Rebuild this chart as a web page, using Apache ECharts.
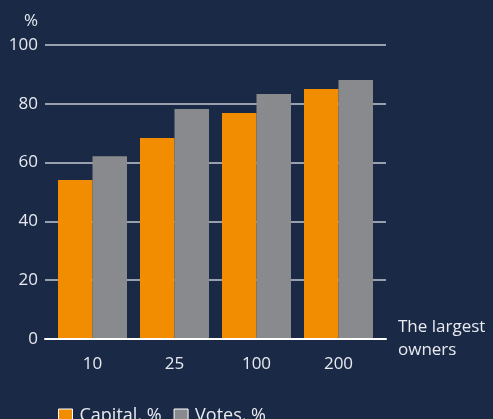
<!DOCTYPE html>
<html>
<head>
<meta charset="utf-8">
<script src="https://cdn.jsdelivr.net/npm/echarts@6/dist/echarts.min.js"></script>
<style>
  html, body { margin: 0; padding: 0; background: #1a2946; }
  #chart { width: 493px; height: 419px; }
</style>
</head>
<body>
<div id="chart"></div>
<script>
const owners = ['10', '25', '100', '200'];
const capital = [54.1, 68.4, 76.9, 85.0];
const votes = [62.2, 78.2, 83.3, 88.1];
const yTicks = [0, 20, 40, 60, 80, 100];

const chart = echarts.init(document.getElementById('chart'));
const txt = '#e8eaf0';
const font = '"Open Sans", Lato, sans-serif';

chart.setOption({
  backgroundColor: '#1a2946',
  textStyle: { fontFamily: font },
  color: ['#f28c00', '#898a8e'],
  legend: {
    left: 53,
    top: 402,
    itemWidth: 14,
    itemHeight: 14,
    itemGap: 12,
    icon: 'rect',
    itemStyle: { borderColor: '#ffffff', borderWidth: 1 },
    textStyle: { color: txt, fontSize: 18, fontFamily: font, padding: [0, 0, 0, 2] },
    data: ['Capital, %', 'Votes, %']
  },
  grid: [
    { left: 45, right: 107, top: 45, bottom: 80 },   // grid lines + y labels
    { left: 51.5, right: 113.5, top: 45, bottom: 80 } // bars
  ],
  yAxis: [
    {
      gridIndex: 0,
      type: 'value',
      min: yTicks[0],
      max: yTicks[yTicks.length - 1],
      interval: 20,
      name: '%',
      nameLocation: 'end',
      nameGap: 15,
      nameTextStyle: { color: txt, fontSize: 17, fontFamily: font, padding: [0, 28, 0, 0] },
      axisLine: { show: false },
      axisTick: { show: false },
      axisLabel: { color: txt, fontSize: 17, margin: 7, fontFamily: font },
      splitLine: { lineStyle: { color: '#c4c8d0', width: 1.5 } }
    },
    {
      gridIndex: 1,
      type: 'value',
      min: 0,
      max: 100,
      show: false
    }
  ],
  xAxis: [
    {
      gridIndex: 0,
      type: 'category',
      data: owners,
      z: 10,
      name: 'The largest\nowners',
      nameLocation: 'end',
      nameGap: 12,
      nameTextStyle: { color: txt, fontSize: 17, fontFamily: font, align: 'left', verticalAlign: 'middle', lineHeight: 23 },
      axisLine: { lineStyle: { color: '#ffffff', width: 2 } },
      axisTick: { show: false },
      axisLabel: { show: false }
    },
    {
      gridIndex: 1,
      type: 'category',
      data: owners,
      axisLine: { show: false },
      axisTick: { show: false },
      axisLabel: { color: txt, fontSize: 17, margin: 17, fontFamily: font }
    }
  ],
  series: [
    {
      name: 'Capital, %',
      type: 'bar',
      xAxisIndex: 1,
      yAxisIndex: 1,
      data: capital,
      barWidth: 34.5,
      barGap: '0%'
    },
    {
      name: 'Votes, %',
      type: 'bar',
      xAxisIndex: 1,
      yAxisIndex: 1,
      data: votes,
      barWidth: 34.5,
      barGap: '0%'
    }
  ]
});
</script>
</body>
</html>
